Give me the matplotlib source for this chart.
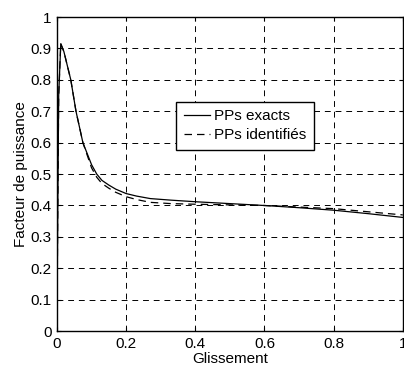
import numpy as np
import matplotlib.pyplot as plt

plt.rcParams['font.family'] = ['Liberation Sans', 'DejaVu Sans']
plt.rcParams['font.size'] = 11

# glissement
glis = [0, 0.002, 0.005, 0.011, 0.02, 0.03, 0.04, 0.055, 0.075, 0.1, 0.115, 0.13,
        0.15, 0.17, 0.2, 0.23, 0.27, 0.33, 0.4, 0.5, 0.6, 0.7, 0.8, 0.9, 1.0]
pp_exacts = [0, 0.35, 0.75, 0.915, 0.89, 0.845, 0.80, 0.70, 0.60, 0.53, 0.50, 0.48,
             0.465, 0.452, 0.438, 0.43, 0.422, 0.417, 0.412, 0.406, 0.400,
             0.393, 0.385, 0.374, 0.362]
pp_ident = [0, 0.35, 0.75, 0.915, 0.89, 0.845, 0.80, 0.70, 0.60, 0.52, 0.49, 0.47,
            0.455, 0.442, 0.428, 0.419, 0.41, 0.406, 0.404, 0.402, 0.400,
            0.395, 0.390, 0.380, 0.370]

fig = plt.figure(figsize=(4.04, 3.70), dpi=100)
ax = fig.add_axes([0.141, 0.105, 0.856, 0.849])

ax.plot(glis, pp_exacts, color='k', linewidth=0.9, label='PPs exacts')
ax.plot(glis, pp_ident, color='k', linewidth=0.9, linestyle=(0, (6, 4)),
        label='PPs identifiés')

ax.set_xlim(0, 1)
ax.set_ylim(0, 1)
ax.set_xticks(np.arange(0, 1.01, 0.2))
ax.set_yticks(np.arange(0, 1.01, 0.1))
ax.set_xticklabels(['0', '0.2', '0.4', '0.6', '0.8', '1'])
ax.set_yticklabels(['0'] + ['%.1f' % v for v in np.arange(0.1, 0.95, 0.1)] + ['1'])
ax.grid(True, color='k', linestyle=(0, (6, 5)), linewidth=0.7)
ax.tick_params(direction='in', top=True, right=True, length=3, pad=4)
for s in ax.spines.values():
    s.set_linewidth(1.0)

ax.set_xlabel('Glissement', labelpad=1)
ax.set_ylabel('Facteur de puissance', labelpad=2)

ax.legend(loc='upper left', bbox_to_anchor=(0.344, 0.73), fancybox=False,
          edgecolor='k', framealpha=1, borderpad=0.5, handlelength=1.7,
          labelspacing=0.3, handletextpad=0.3, borderaxespad=0)

fig.savefig('out.png', dpi=100)
